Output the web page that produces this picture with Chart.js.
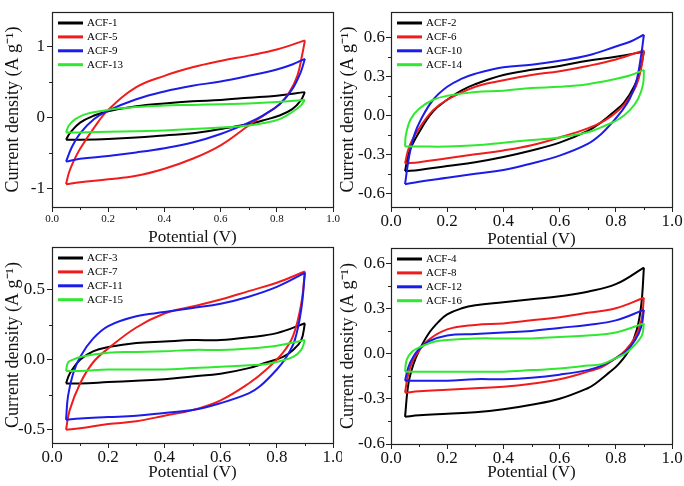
<!DOCTYPE html>
<html><head><meta charset="utf-8">
<script src="https://cdn.jsdelivr.net/npm/chart.js@4/dist/chart.umd.min.js"></script>
<style>
html,body{margin:0;padding:0;background:#fff;}
#wrap{position:relative;width:684px;height:486px;overflow:hidden;background:#fff;}
canvas{position:absolute;}
</style></head><body>
<div id="wrap">
<canvas id="c1" width="342" height="250" style="left:0px;top:0px;width:342px;height:250px"></canvas>
<canvas id="c2" width="348" height="250" style="left:336px;top:0px;width:348px;height:250px"></canvas>
<canvas id="c3" width="342" height="246" style="left:0px;top:240px;width:342px;height:246px"></canvas>
<canvas id="c4" width="348" height="246" style="left:336px;top:240px;width:348px;height:246px"></canvas>
</div>
<script>
// ---------- data: [potential (V), current density (A/g)] ----------
// forward (upper) and reverse (lower) branches of each CV loop
const acf1Up  = [[0.05,-0.31],[0.065,-0.21],[0.1,-0.07],[0.15,0.03],[0.2,0.09],[0.3,0.16],[0.4,0.20],[0.5,0.23],[0.6,0.25],[0.7,0.28],[0.8,0.31],[0.9,0.36]];
const acf1Dn  = [[0.05,-0.31],[0.1,-0.31],[0.2,-0.30],[0.3,-0.28],[0.4,-0.25],[0.5,-0.22],[0.6,-0.16],[0.7,-0.09],[0.75,-0.04],[0.81,0.03],[0.855,0.12],[0.885,0.24],[0.9,0.36]];
const acf5Up  = [[0.05,-0.94],[0.06,-0.78],[0.075,-0.63],[0.1,-0.44],[0.15,-0.14],[0.2,0.11],[0.3,0.43],[0.4,0.59],[0.5,0.71],[0.6,0.80],[0.7,0.875],[0.8,0.96],[0.9,1.09]];
const acf5Dn  = [[0.05,-0.94],[0.1,-0.91],[0.2,-0.87],[0.3,-0.82],[0.4,-0.72],[0.5,-0.58],[0.6,-0.39],[0.7,-0.11],[0.76,0.05],[0.81,0.19],[0.845,0.36],[0.873,0.59],[0.89,0.88],[0.9,1.09]];
const acf9Up  = [[0.05,-0.62],[0.07,-0.42],[0.1,-0.22],[0.15,-0.02],[0.2,0.10],[0.3,0.26],[0.4,0.37],[0.5,0.45],[0.6,0.51],[0.7,0.59],[0.8,0.68],[0.855,0.75],[0.9,0.83]];
const acf9Dn  = [[0.05,-0.62],[0.1,-0.58],[0.2,-0.54],[0.3,-0.49],[0.4,-0.43],[0.5,-0.35],[0.6,-0.23],[0.7,-0.07],[0.75,0.03],[0.81,0.19],[0.855,0.40],[0.885,0.64],[0.9,0.83]];
const acf13Up = [[0.05,-0.21],[0.06,-0.11],[0.083,-0.02],[0.12,0.05],[0.2,0.11],[0.3,0.15],[0.4,0.17],[0.5,0.18],[0.6,0.19],[0.7,0.20],[0.8,0.22],[0.9,0.25]];
const acf13Dn = [[0.05,-0.21],[0.1,-0.21],[0.2,-0.20],[0.3,-0.19],[0.4,-0.18],[0.5,-0.16],[0.6,-0.14],[0.7,-0.11],[0.75,-0.08],[0.81,-0.02],[0.855,0.08],[0.885,0.17],[0.9,0.25]];

const acf2Up  = [[0.05,-0.43],[0.065,-0.28],[0.1,-0.13],[0.15,0.03],[0.2,0.12],[0.25,0.19],[0.3,0.24],[0.4,0.31],[0.5,0.35],[0.6,0.38],[0.7,0.42],[0.8,0.45],[0.9,0.49]];
const acf2Dn  = [[0.05,-0.43],[0.1,-0.42],[0.2,-0.39],[0.3,-0.36],[0.4,-0.32],[0.5,-0.27],[0.6,-0.21],[0.7,-0.12],[0.75,-0.05],[0.795,0.03],[0.83,0.10],[0.867,0.23],[0.888,0.36],[0.9,0.49]];
const acf6Up  = [[0.05,-0.37],[0.065,-0.24],[0.1,-0.10],[0.15,0.04],[0.2,0.12],[0.3,0.22],[0.4,0.27],[0.5,0.31],[0.6,0.34],[0.7,0.38],[0.8,0.43],[0.9,0.50]];
const acf6Dn  = [[0.05,-0.37],[0.1,-0.36],[0.2,-0.33],[0.3,-0.30],[0.4,-0.27],[0.5,-0.23],[0.6,-0.17],[0.7,-0.10],[0.76,-0.04],[0.81,0.04],[0.843,0.12],[0.873,0.23],[0.89,0.36],[0.9,0.50]];
const acf10Up = [[0.05,-0.53],[0.065,-0.31],[0.083,-0.15],[0.107,-0.03],[0.15,0.12],[0.2,0.22],[0.25,0.28],[0.3,0.32],[0.4,0.37],[0.5,0.39],[0.6,0.42],[0.7,0.46],[0.8,0.53],[0.855,0.57],[0.9,0.62]];
const acf10Dn = [[0.05,-0.53],[0.1,-0.51],[0.2,-0.48],[0.3,-0.45],[0.4,-0.42],[0.5,-0.37],[0.6,-0.31],[0.7,-0.22],[0.75,-0.14],[0.785,-0.06],[0.82,0.03],[0.85,0.13],[0.873,0.26],[0.89,0.46],[0.9,0.62]];
const acf14Up = [[0.05,-0.24],[0.053,-0.15],[0.07,-0.03],[0.1,0.05],[0.15,0.12],[0.2,0.15],[0.3,0.18],[0.4,0.19],[0.5,0.21],[0.6,0.22],[0.7,0.24],[0.8,0.28],[0.855,0.31],[0.9,0.35]];
const acf14Dn = [[0.05,-0.24],[0.1,-0.24],[0.2,-0.24],[0.3,-0.23],[0.4,-0.21],[0.5,-0.19],[0.6,-0.17],[0.7,-0.13],[0.75,-0.09],[0.81,-0.03],[0.85,0.04],[0.88,0.13],[0.897,0.24],[0.9,0.35]];

const acf3Up  = [[0.05,-0.17],[0.063,-0.10],[0.1,0.0],[0.146,0.06],[0.2,0.09],[0.3,0.12],[0.4,0.13],[0.5,0.14],[0.6,0.14],[0.7,0.16],[0.8,0.19],[0.9,0.26]];
const acf3Dn  = [[0.05,-0.17],[0.1,-0.17],[0.2,-0.16],[0.3,-0.15],[0.4,-0.14],[0.5,-0.12],[0.6,-0.10],[0.7,-0.06],[0.763,-0.02],[0.822,0.02],[0.858,0.07],[0.887,0.14],[0.9,0.26]];
const acf7Up  = [[0.05,-0.50],[0.063,-0.36],[0.1,-0.17],[0.146,-0.02],[0.2,0.08],[0.3,0.23],[0.4,0.33],[0.5,0.38],[0.6,0.43],[0.7,0.49],[0.8,0.55],[0.9,0.63]];
const acf7Dn  = [[0.05,-0.50],[0.1,-0.49],[0.2,-0.46],[0.3,-0.44],[0.4,-0.40],[0.5,-0.36],[0.6,-0.29],[0.7,-0.17],[0.763,-0.07],[0.822,0.05],[0.858,0.17],[0.887,0.40],[0.9,0.63]];
const acf11Up = [[0.05,-0.43],[0.057,-0.26],[0.075,-0.10],[0.1,0.02],[0.146,0.15],[0.2,0.24],[0.3,0.31],[0.4,0.34],[0.5,0.37],[0.6,0.40],[0.7,0.45],[0.8,0.52],[0.9,0.62]];
const acf11Dn = [[0.05,-0.43],[0.1,-0.42],[0.2,-0.41],[0.3,-0.40],[0.4,-0.38],[0.5,-0.36],[0.6,-0.31],[0.7,-0.24],[0.74,-0.19],[0.8,-0.07],[0.834,0.02],[0.864,0.14],[0.887,0.36],[0.9,0.62]];
const acf15Up = [[0.05,-0.08],[0.057,-0.02],[0.075,0.0],[0.1,0.02],[0.2,0.05],[0.3,0.055],[0.4,0.06],[0.5,0.07],[0.6,0.07],[0.7,0.08],[0.8,0.10],[0.9,0.14]];
const acf15Dn = [[0.05,-0.08],[0.1,-0.08],[0.2,-0.07],[0.3,-0.07],[0.4,-0.07],[0.5,-0.06],[0.6,-0.05],[0.7,-0.04],[0.763,-0.03],[0.81,-0.01],[0.858,0.02],[0.887,0.07],[0.9,0.14]];

const acf4Up  = [[0.05,-0.42],[0.062,-0.20],[0.08,-0.07],[0.1,0.02],[0.133,0.13],[0.169,0.21],[0.2,0.26],[0.252,0.30],[0.3,0.32],[0.4,0.34],[0.5,0.36],[0.6,0.38],[0.7,0.41],[0.8,0.46],[0.9,0.57]];
const acf4Dn  = [[0.05,-0.42],[0.1,-0.41],[0.2,-0.40],[0.3,-0.39],[0.4,-0.37],[0.5,-0.34],[0.6,-0.30],[0.7,-0.23],[0.727,-0.20],[0.774,-0.13],[0.81,-0.07],[0.846,0.02],[0.875,0.16],[0.891,0.33],[0.9,0.57]];
const acf8Up  = [[0.05,-0.26],[0.062,-0.13],[0.08,-0.04],[0.1,0.02],[0.133,0.09],[0.2,0.16],[0.3,0.19],[0.4,0.20],[0.5,0.22],[0.6,0.24],[0.7,0.27],[0.8,0.30],[0.9,0.37]];
const acf8Dn  = [[0.05,-0.26],[0.1,-0.25],[0.2,-0.24],[0.3,-0.23],[0.4,-0.22],[0.5,-0.20],[0.6,-0.17],[0.7,-0.12],[0.75,-0.09],[0.8,-0.03],[0.834,0.02],[0.869,0.11],[0.891,0.22],[0.9,0.37]];
const acf12Up = [[0.05,-0.18],[0.062,-0.09],[0.08,-0.02],[0.1,0.03],[0.133,0.08],[0.2,0.12],[0.3,0.13],[0.4,0.14],[0.5,0.15],[0.6,0.17],[0.7,0.19],[0.8,0.22],[0.9,0.29]];
const acf12Dn = [[0.05,-0.18],[0.1,-0.18],[0.2,-0.18],[0.3,-0.17],[0.4,-0.17],[0.5,-0.16],[0.6,-0.14],[0.7,-0.11],[0.75,-0.08],[0.8,-0.03],[0.834,0.01],[0.869,0.09],[0.891,0.18],[0.9,0.29]];
const acf16Up = [[0.05,-0.12],[0.056,-0.04],[0.074,0.01],[0.1,0.04],[0.157,0.08],[0.2,0.09],[0.3,0.10],[0.4,0.10],[0.5,0.10],[0.6,0.11],[0.7,0.12],[0.8,0.14],[0.9,0.20]];
const acf16Dn = [[0.05,-0.12],[0.1,-0.12],[0.2,-0.12],[0.3,-0.12],[0.4,-0.12],[0.5,-0.11],[0.6,-0.10],[0.7,-0.08],[0.75,-0.07],[0.8,-0.03],[0.834,0.0],[0.869,0.06],[0.893,0.12],[0.9,0.20]];

// ---------- labels / ticks ----------
const names1 = ['ACF-1','ACF-5','ACF-9','ACF-13'];
const names2 = ['ACF-2','ACF-6','ACF-10','ACF-14'];
const names3 = ['ACF-3','ACF-7','ACF-11','ACF-15'];
const names4 = ['ACF-4','ACF-8','ACF-12','ACF-16'];
const xTicks = [0, 0.2, 0.4, 0.6, 0.8, 1.0];
const xMinor = [0.1, 0.3, 0.5, 0.7, 0.9];
const y1Ticks = [-1, 0, 1];          const y1Minor = [-0.5, 0.5];
const y2Ticks = [-0.6,-0.3,0,0.3,0.6]; const y2Minor = [-0.45,-0.15,0.15,0.45];
const y3Ticks = [-0.5, 0, 0.5];      const y3Minor = [-0.25, 0.25];
const y4Ticks = [-0.6,-0.3,0,0.3,0.6]; const y4Minor = [-0.45,-0.15,0.15,0.45];
const xTitle = 'Potential (V)';
const yTitle = 'Current density (A g\u207B\u00B9)';

const colors = ['#000000','#f01c1c','#1c1ce8','#30e830'];
const FONT = "'Liberation Serif','Times New Roman',serif";

const panels = [
  {id:'c1', names:names1, up:[acf1Up,acf5Up,acf9Up,acf13Up], dn:[acf1Dn,acf5Dn,acf9Dn,acf13Dn],
   yMin:-1.26, yMax:1.49, yTicks:y1Ticks, yMinor:y1Minor, yDec:0, xFont:11, yFont:17,
   pad:{top:12,right:9}, yW:52, xH:43, xTitlePad:2, yTitlePad:2, yTickPad:2},
  {id:'c2', names:names2, up:[acf2Up,acf6Up,acf10Up,acf14Up], dn:[acf2Dn,acf6Dn,acf10Dn,acf14Dn],
   yMin:-0.705, yMax:0.795, yTicks:y2Ticks, yMinor:y2Minor, yDec:1, xFont:17, yFont:17,
   pad:{top:12,right:12}, yW:55, xH:43, xTitlePad:0, yTitlePad:1, yTickPad:1},
  {id:'c3', names:names3, up:[acf3Up,acf7Up,acf11Up,acf15Up], dn:[acf3Dn,acf7Dn,acf11Dn,acf15Dn],
   yMin:-0.595, yMax:0.805, yTicks:y3Ticks, yMinor:y3Minor, yDec:1, xFont:17, yFont:17,
   pad:{top:7,right:9}, yW:52, xH:43, xTitlePad:3, yTitlePad:2, yTickPad:2},
  {id:'c4', names:names4, up:[acf4Up,acf8Up,acf12Up,acf16Up], dn:[acf4Dn,acf8Dn,acf12Dn,acf16Dn],
   yMin:-0.6, yMax:0.70, yTicks:y4Ticks, yMinor:y4Minor, yDec:1, xFont:17, yFont:17,
   pad:{top:8,right:12}, yW:55, xH:42, xTitlePad:3, yTitlePad:1, yTickPad:1}
];

const decor = {
  id: 'decor',
  afterDatasetsDraw(chart) {
    const p = chart.options.plugins.decor.panel;
    const a = chart.chartArea, ctx = chart.ctx;
    const xs = chart.scales.x, ys = chart.scales.y;
    ctx.save();
    ctx.strokeStyle = '#222'; ctx.lineWidth = 1;
    ctx.beginPath();
    xMinor.forEach(v => { const px = Math.round(xs.getPixelForValue(v)) + 0.5; ctx.moveTo(px, a.bottom); ctx.lineTo(px, a.bottom + 3); });
    p.yMinor.forEach(v => { const py = Math.round(ys.getPixelForValue(v)) + 0.5; ctx.moveTo(a.left - 3, py); ctx.lineTo(a.left, py); });
    ctx.stroke();
    ctx.lineWidth = 1.2;
    ctx.strokeRect(Math.round(a.left)+0.5, Math.round(a.top)+0.5, Math.round(a.right-a.left), Math.round(a.bottom-a.top));
    ctx.font = '11px ' + FONT;
    ctx.textBaseline = 'middle';
    ctx.textAlign = 'left';
    p.names.forEach((n, i) => {
      const y = a.top + 11 + i * 13.9;
      ctx.strokeStyle = colors[i]; ctx.lineWidth = 3;
      ctx.beginPath(); ctx.moveTo(a.left + 6, y); ctx.lineTo(a.left + 31, y); ctx.stroke();
      ctx.fillStyle = '#000';
      ctx.fillText(n, a.left + 35, y + 0.5);
    });
    ctx.restore();
  }
};

panels.forEach(p => {
  const datasets = [];
  p.names.forEach((n, i) => {
    [p.up[i], p.dn[i]].forEach(branch => {
      datasets.push({
        label: n,
        data: branch.map(d => ({x: d[0], y: d[1]})),
        showLine: true, borderColor: colors[i], backgroundColor: colors[i],
        borderWidth: 2, pointRadius: 0, fill: false,
        tension: 0.4, order: 3 - i
      });
    });
  });
  new Chart(document.getElementById(p.id), {
    type: 'scatter',
    data: { datasets },
    options: {
      responsive: false, animation: false, devicePixelRatio: 1,
      layout: { padding: { top: p.pad.top, right: p.pad.right, left: 0, bottom: 0 } },
      plugins: { legend: {display: false}, tooltip: {enabled: false}, decor: { panel: p } },
      scales: {
        x: {
          type: 'linear', min: 0, max: 1,
          afterBuildTicks: s => { s.ticks = xTicks.map(v => ({value: v})); },
          afterFit: s => { s.height = p.xH; s.paddingLeft = 0; s.paddingRight = 0; },
          ticks: { autoSkip: false, maxRotation: 0, padding: (p.xFont < 14 ? 1 : -1), color: '#111',
                   font: { family: FONT, size: p.xFont }, callback: v => Number(v).toFixed(1) },
          grid: { drawOnChartArea: false, drawTicks: true, tickLength: 5, color: '#222', lineWidth: 1 },
          border: { display: false },
          title: { display: true, text: xTitle, color: '#111', font: { family: FONT, size: 17 },
                   padding: { top: 0, bottom: p.xTitlePad } }
        },
        y: {
          type: 'linear', min: p.yMin, max: p.yMax,
          afterBuildTicks: s => { s.ticks = p.yTicks.map(v => ({value: v})); },
          afterFit: s => { s.width = p.yW; s.paddingTop = 0; s.paddingBottom = 0; },
          ticks: { autoSkip: false, padding: p.yTickPad, color: '#111',
                   font: { family: FONT, size: p.yFont }, callback: v => Number(v).toFixed(p.yDec) },
          grid: { drawOnChartArea: false, drawTicks: true, tickLength: 5, color: '#222', lineWidth: 1 },
          border: { display: false },
          title: { display: true, text: yTitle, color: '#111', font: { family: FONT, size: 18 },
                   padding: { top: p.yTitlePad, bottom: 0 } }
        }
      }
    },
    plugins: [decor]
  });
});
</script>
</body></html>
